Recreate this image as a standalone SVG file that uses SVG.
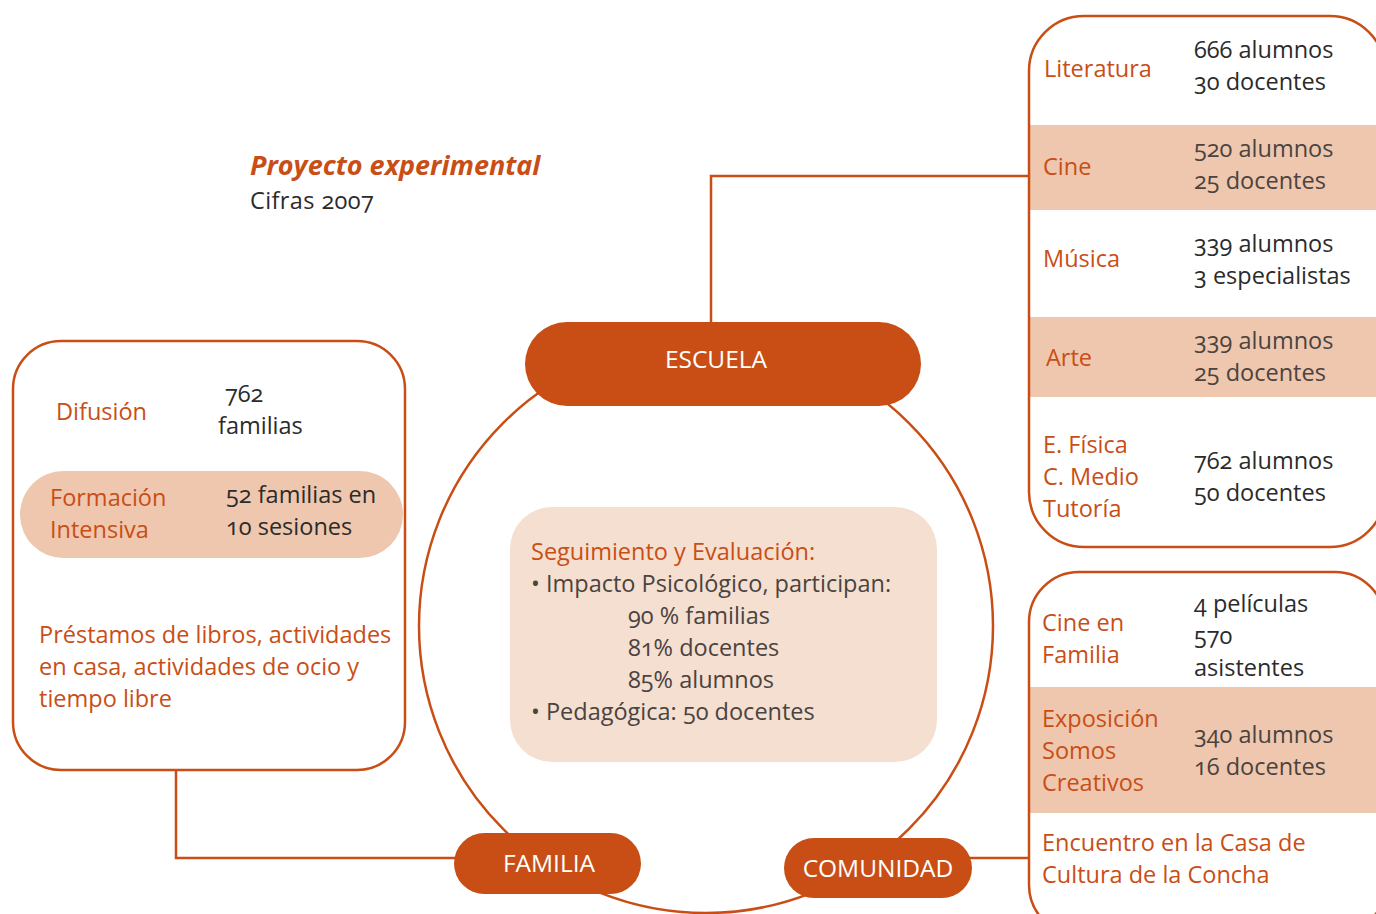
<svg xmlns="http://www.w3.org/2000/svg" width="1376" height="914" viewBox="0 0 1376 914">
<style>
text{font-family:"Open Sans","Liberation Sans",sans-serif;font-size:23.5px;font-variant-numeric:oldstyle-nums}
.o{fill:#C94E15}
.d{fill:#2b2b2b}
.g{fill:#4a4340}
.w{fill:#ffffff;font-size:24.5px}
.ln{fill:none;stroke:#C94E15;stroke-width:2.5}
.pill{fill:#C94E15}
.band{fill:#EEC7AE}
</style>
<rect width="1376" height="914" fill="#ffffff"/>
<g id="title">
<text x="250" y="175" class="o" style="font-style:italic;font-weight:bold;font-size:27px">Proyecto experimental</text>
<text x="250" y="209" class="d" style="letter-spacing:0.4px">Cifras 2007</text>
</g>
<g id="connectors">
<path class="ln" d="M711 330 V176 H1030"/>
<path class="ln" d="M176 770 V858 H460"/>
<path class="ln" d="M965 858 H1030"/>
<circle class="ln" cx="706" cy="626" r="287"/>
</g>
<g id="escuela-box">
<rect x="1030" y="125" width="346" height="85" class="band"/>
<rect x="1030" y="317" width="346" height="80" class="band"/>
<rect x="1029" y="16" width="356" height="531" rx="55" class="ln"/>
<text x="1044" y="77" class="o">Literatura</text>
<text x="1194" y="58" class="d">666 alumnos</text>
<text x="1194" y="90" class="d">30 docentes</text>
<text x="1043" y="175" class="o">Cine</text>
<text x="1194" y="157" class="g">520 alumnos</text>
<text x="1194" y="189" class="g">25 docentes</text>
<text x="1043" y="267" class="o">Música</text>
<text x="1194" y="252" class="d">339 alumnos</text>
<text x="1194" y="284" class="d">3 especialistas</text>
<text x="1046" y="366" class="o">Arte</text>
<text x="1194" y="349" class="g">339 alumnos</text>
<text x="1194" y="381" class="g">25 docentes</text>
<text x="1043" y="453" class="o">E. Física</text>
<text x="1043" y="485" class="o">C. Medio</text>
<text x="1043" y="517" class="o">Tutoría</text>
<text x="1194" y="469" class="d">762 alumnos</text>
<text x="1194" y="501" class="d">50 docentes</text>
</g>
<g id="comunidad-box">
<rect x="1030" y="687" width="346" height="126" class="band"/>
<rect x="1029" y="572" width="356" height="363" rx="50" class="ln"/>
<text x="1042" y="631" class="o">Cine en</text>
<text x="1042" y="663" class="o">Familia</text>
<text x="1194" y="612" class="d">4 películas</text>
<text x="1194" y="644" class="d">570</text>
<text x="1194" y="676" class="d">asistentes</text>
<text x="1042" y="727" class="o">Exposición</text>
<text x="1042" y="759" class="o">Somos</text>
<text x="1042" y="791" class="o">Creativos</text>
<text x="1194" y="743" class="g">340 alumnos</text>
<text x="1194" y="775" class="g">16 docentes</text>
<text x="1042" y="851" class="o">Encuentro en la Casa de</text>
<text x="1042" y="883" class="o">Cultura de la Concha</text>
</g>
<g id="familia-box">
<rect x="13" y="341" width="392" height="429" rx="48" class="ln" fill="#ffffff"/>
<rect x="20" y="471" width="383" height="87" rx="43.5" class="band"/>
<text x="56" y="420" class="o">Difusión</text>
<text x="225" y="402" class="d">762</text>
<text x="218" y="434" class="d">familias</text>
<text x="50" y="506" class="o">Formación</text>
<text x="50" y="538" class="o">Intensiva</text>
<text x="226" y="503" class="d">52 familias en</text>
<text x="226" y="535" class="d">10 sesiones</text>
<text x="39" y="643" class="o">Préstamos de libros, actividades</text>
<text x="39" y="675" class="o">en casa, actividades de ocio y</text>
<text x="39" y="707" class="o">tiempo libre</text>
</g>
<g id="seguimiento">
<rect x="510" y="507" width="427" height="255" rx="42" fill="#F5DFD1"/>
<text x="531" y="560" class="o">Seguimiento y Evaluación:</text>
<text x="531" y="592" class="g">• Impacto Psicológico, participan:</text>
<text x="628" y="624" class="g">90 % familias</text>
<text x="628" y="656" class="g">81% docentes</text>
<text x="628" y="688" class="g">85% alumnos</text>
<text x="531" y="720" class="g">• Pedagógica: 50 docentes</text>
</g>
<g id="escuela">
<rect x="525" y="322" width="396" height="84" rx="42" class="pill"/>
<text x="716" y="368" class="w" text-anchor="middle">ESCUELA</text>
</g>
<g id="familia">
<rect x="454" y="833" width="187" height="61" rx="30.5" class="pill"/>
<text x="549" y="872" class="w" text-anchor="middle">FAMILIA</text>
</g>
<g id="comunidad">
<rect x="784" y="838" width="188" height="60" rx="30" class="pill"/>
<text x="878" y="877" class="w" text-anchor="middle">COMUNIDAD</text>
</g>
</svg>
